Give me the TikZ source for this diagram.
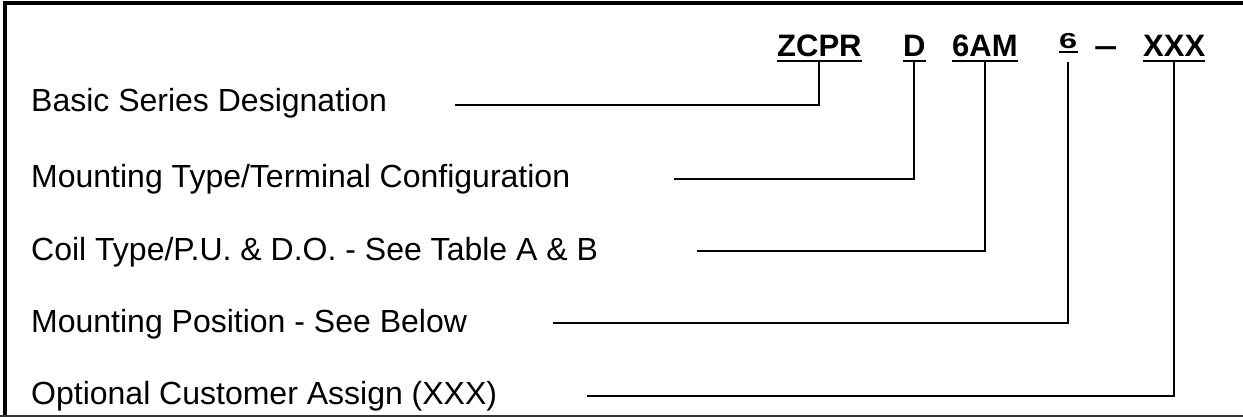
\documentclass[tikz,border=0pt]{standalone}
\usepackage{fontspec}
\setmainfont{Liberation Sans}
\begin{document}
\begin{tikzpicture}[x=1pt,y=-1pt,
  lbl/.style={anchor=base west,inner sep=0pt,font=\fontsize{32}{38}\selectfont},
  code/.style={anchor=base west,inner sep=0pt,font=\fontsize{31}{37}\selectfont\bfseries},
  uline/.style={line width=2pt},
  conn/.style={line width=2pt}]
\useasboundingbox (0,0) rectangle (1243,417);
% frame
\draw[line width=4pt] (5,417) -- (5,3) -- (1243,3);
\draw[line width=1.5pt,black!80] (0,416) -- (1243,416);
% codes
\node[code] (zcpr) at (777,57) {ZCPR};
\node[code] (d) at (903,57) {D};
\node[code] (am) at (952,57) {6AM};
\node[code] (six) at (1059,49) {\scalebox{1.05}[0.7]{6}};
\node[code] (dash) at (1094,57) {\scalebox{1.35}[1]{–}};
\node[code] (xxx) at (1143,57) {XXX};
\foreach \n in {zcpr,d,am,xxx}
  \draw[uline] ([yshift=-4pt]\n.base west) -- ([yshift=-4pt]\n.base east);
\draw[uline] ([yshift=-3pt]six.base west) -- ([yshift=-3pt]six.base east);
% labels
\node[lbl] (l1) at (31,112) {Basic Series Designation};
\node[lbl] (l2) at (31,188) {Mounting Type/Terminal Configuration};
\node[lbl] (l3) at (31,260) {Coil Type/P.U. \& D.O. - See Table A \& B};
\node[lbl] (l4) at (31,332) {Mounting Position - See Below};
\node[lbl] (l5) at (31,404) {Optional Customer Assign (XXX)};
% line starts
\coordinate (s1) at (455,105);
\coordinate (s2) at (674,179);
\coordinate (s3) at (697,251);
\coordinate (s4) at (553,323);
\coordinate (s5) at (587,396);
% connectors
\draw[conn] ([yshift=-5pt]zcpr.base) |- (s1);
\draw[conn] ([yshift=-5pt]d.base) |- (s2);
\draw[conn] ([yshift=-5pt]am.base) |- (s3);
\draw[conn] ([yshift=-13pt]six.base) |- (s4);
\draw[conn] ([yshift=-5pt]xxx.base) |- (s5);
\end{tikzpicture}
\end{document}
